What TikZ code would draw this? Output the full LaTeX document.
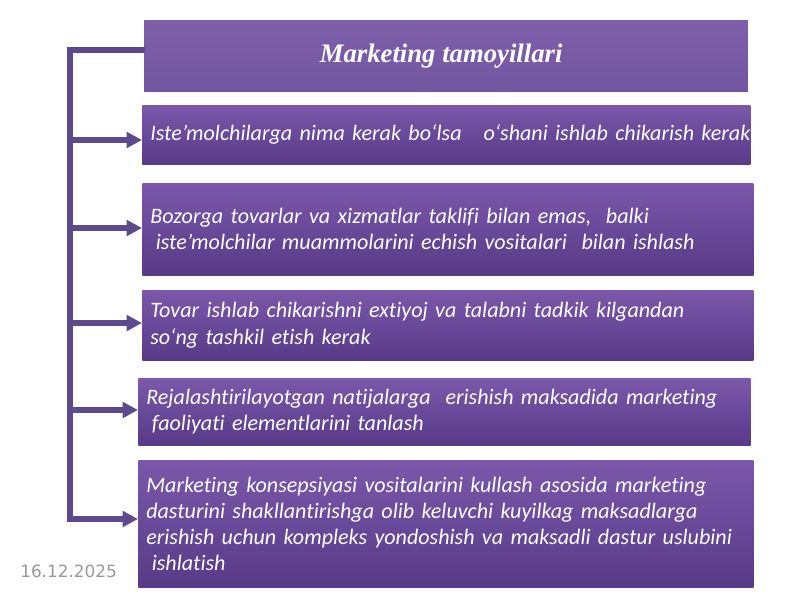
\documentclass[tikz,border=0pt]{standalone}
\usepackage{fontspec}
\setmainfont{Carlito}[Ligatures=NoCommon]
\newfontfamily\headfont{Liberation Serif}
\newfontfamily\datefont{DejaVu Sans}
\usetikzlibrary{arrows.meta,shadows}
\definecolor{boxtop}{HTML}{7B58AA}
\definecolor{boxbottom}{HTML}{573A88}
\definecolor{headtop}{HTML}{7E60AA}
\definecolor{headbottom}{HTML}{7356A0}
\definecolor{branchline}{HTML}{5C4A8C}
\definecolor{dategray}{HTML}{999999}
\begin{document}
\begin{tikzpicture}[x=0.025cm, y=-0.025cm,
    principle/.style={anchor=north west, top color=boxtop, bottom color=boxbottom,
      text=white, inner xsep=0.2cm, inner ysep=0pt, align=left,
      font=\itshape\fontsize{15.7}{18.6}\selectfont,
      drop shadow={opacity=0.3, shadow xshift=0.6pt, shadow yshift=-0.8pt}},
    branch/.style={draw=branchline, line width=4pt}]
    \useasboundingbox[fill=white] (0,0) rectangle (800,600);
    % heading box
    \node[anchor=north west, minimum width=15.15cm, minimum height=1.85cm,
      top color=headtop, bottom color=headbottom, draw=white, line width=1.5pt,
      drop shadow={opacity=0.3, shadow xshift=0.8pt, shadow yshift=-0.8pt},
      text=white, font=\headfont\bfseries\itshape\fontsize{19}{22}\selectfont] (title) at (142,18) {Marketing tamoyillari\hspace*{0.25cm}};
    % principles with their arrows
    \foreach \n/\xl/\yt/\xr/\yb/\ya/\txt in {
        1/142/105/750/164/140/{\mbox{Iste’molchilarga nima kerak bo‘lsa\ \ \ o‘shani ishlab chikarish kerak}},
        2/142/183/753/275/228/{Bozorga tovarlar va xizmatlar taklifi bilan emas,\ \ balki\\\hspace*{0.25em}iste’molchilar muammolarini echish vositalari\ \ bilan ishlash},
        3/142/290/753/360/323/{Tovar ishlab chikarishni extiyoj va talabni tadkik kilgandan\\so‘ng tashkil etish kerak},
        4/138/378/750/445/410/{Rejalashtirilayotgan natijalarga\ \ erishish maksadida marketing\\\hspace*{0.25em}faoliyati elementlarini tanlash},
        5/138/460/753/587/519/{Marketing konsepsiyasi vositalarini kullash asosida marketing\\dasturini shakllantirishga olib keluvchi kuyilkag maksadlarga\\erishish uchun kompleks yondoshish va maksadli dastur uslubini\\\hspace*{0.25em}ishlatish}
    } {
        \pgfmathsetmacro\boxw{(\xr-\xl)*0.025}
        \pgfmathsetmacro\boxh{(\yb-\yt)*0.025}
        \pgfmathsetmacro\textw{\boxw-0.4}
        \node[principle, minimum width=\boxw cm, minimum height=\boxh cm, text width=\textw cm] (p\n) at (\xl,\yt) {\txt};
        \coordinate (a\n) at (70,\ya);
        \draw[branch, -{Triangle[length=11pt,width=11pt]}] (a\n) -- (p\n.west |- a\n);
    }
    \coordinate (top) at (70,50);
    \draw[branch, line cap=rect] (title.west |- top) -- (top) -- (a5);
    \node[anchor=west, inner sep=0pt, text=dategray, font=\datefont\fontsize{12}{14}\selectfont] (date) at (20,571) {16.12.2025};
\end{tikzpicture}
\end{document}
